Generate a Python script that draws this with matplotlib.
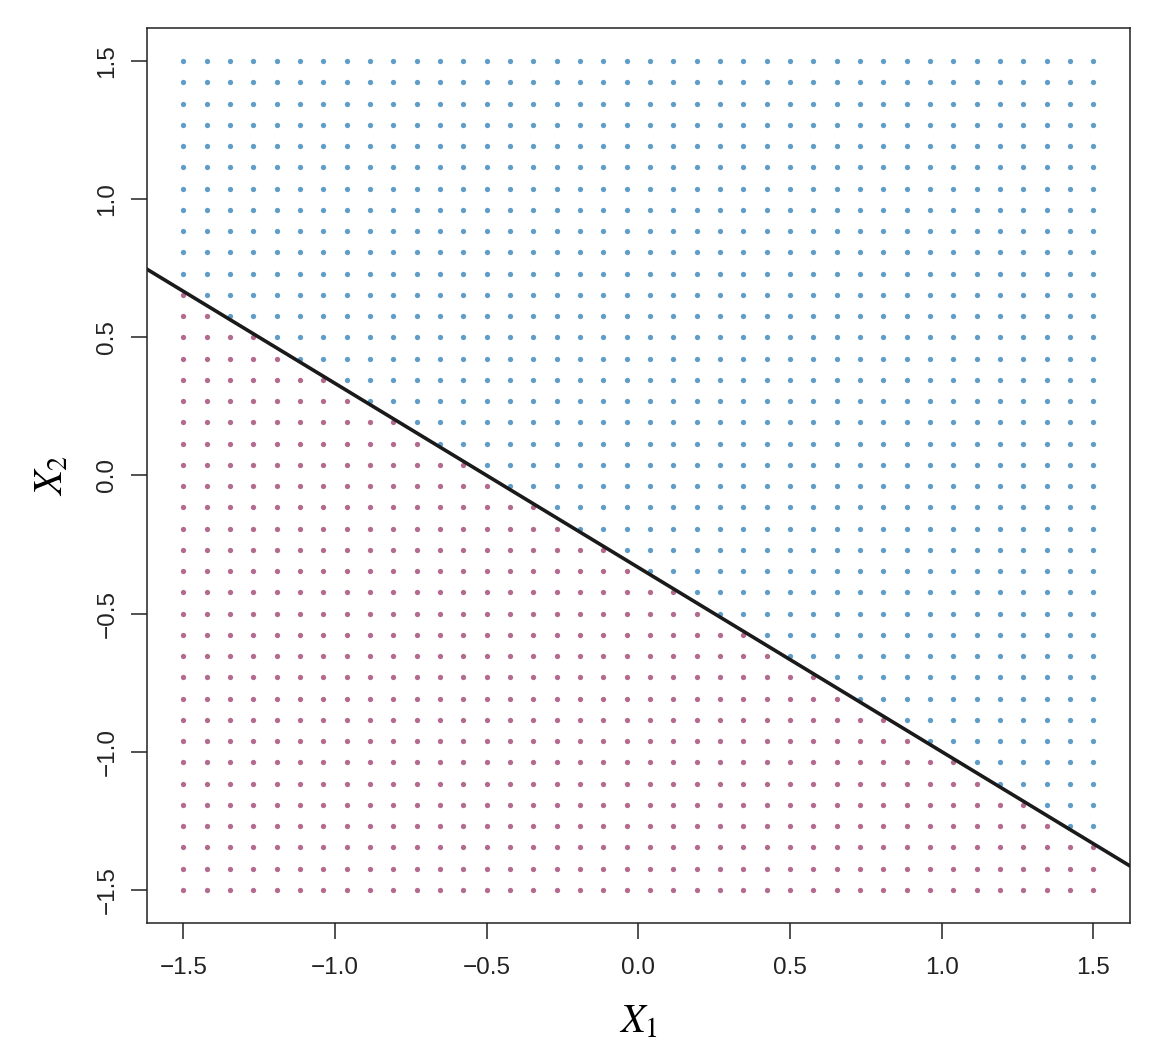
import numpy as np
import matplotlib.pyplot as plt

# hyperplane 1 + 2*X1 + 3*X2 = 0
beta = [1.0, 2.0, 3.0]

# 40 x 40 grid of points on [-1.5, 1.5]
grid_lo, grid_hi, grid_n = -1.5, 1.5, 40
ticks = [-1.5, -1.0, -0.5, 0.0, 0.5, 1.0, 1.5]
tick_labels = ["\u22121.5", "\u22121.0", "\u22120.5", "0.0", "0.5", "1.0", "1.5"]

blue = "#5f9dc8"
red = "#b46a8e"

plt.rcParams['font.family'] = ['Liberation Sans', 'DejaVu Sans']
plt.rcParams['mathtext.fontset'] = 'stix'

g = np.linspace(grid_lo, grid_hi, grid_n)
X1, X2 = np.meshgrid(g, g)
X1 = X1.ravel()
X2 = X2.ravel()
f = beta[0] + beta[1] * X1 + beta[2] * X2

fig = plt.figure(figsize=(11.6, 10.56), dpi=100)
ax = fig.add_axes([0.1267, 0.126, 0.974 - 0.1267, 0.9735 - 0.126])

ax.plot(X1[f > 0], X2[f > 0], 'o', color=blue, markersize=3.8, markeredgewidth=0)
ax.plot(X1[f < 0], X2[f < 0], 'o', color=red, markersize=3.8, markeredgewidth=0)

ax.axline((0, -beta[0] / beta[2]), slope=-beta[1] / beta[2], color='#1a1a1a', lw=2.6)

ax.set_xlim(-1.62, 1.62)
ax.set_ylim(-1.62, 1.62)

ax.set_xticks(ticks)
ax.set_xticklabels(tick_labels)
ax.set_yticks(ticks)
ax.set_yticklabels(tick_labels, rotation=90, va='center')

ax.tick_params(axis='both', direction='out', length=11.5, width=1.1,
               labelsize=17.5, colors='#222222')
ax.tick_params(axis='x', pad=13)
ax.tick_params(axis='y', pad=9)
for s in ax.spines.values():
    s.set_linewidth(1.1)
    s.set_color('#222222')

ax.set_xlabel(r'$X_1$', fontsize=29, labelpad=17)
ax.set_ylabel(r'$X_2$', fontsize=29, labelpad=19)

fig.savefig('out.png', dpi=100)
